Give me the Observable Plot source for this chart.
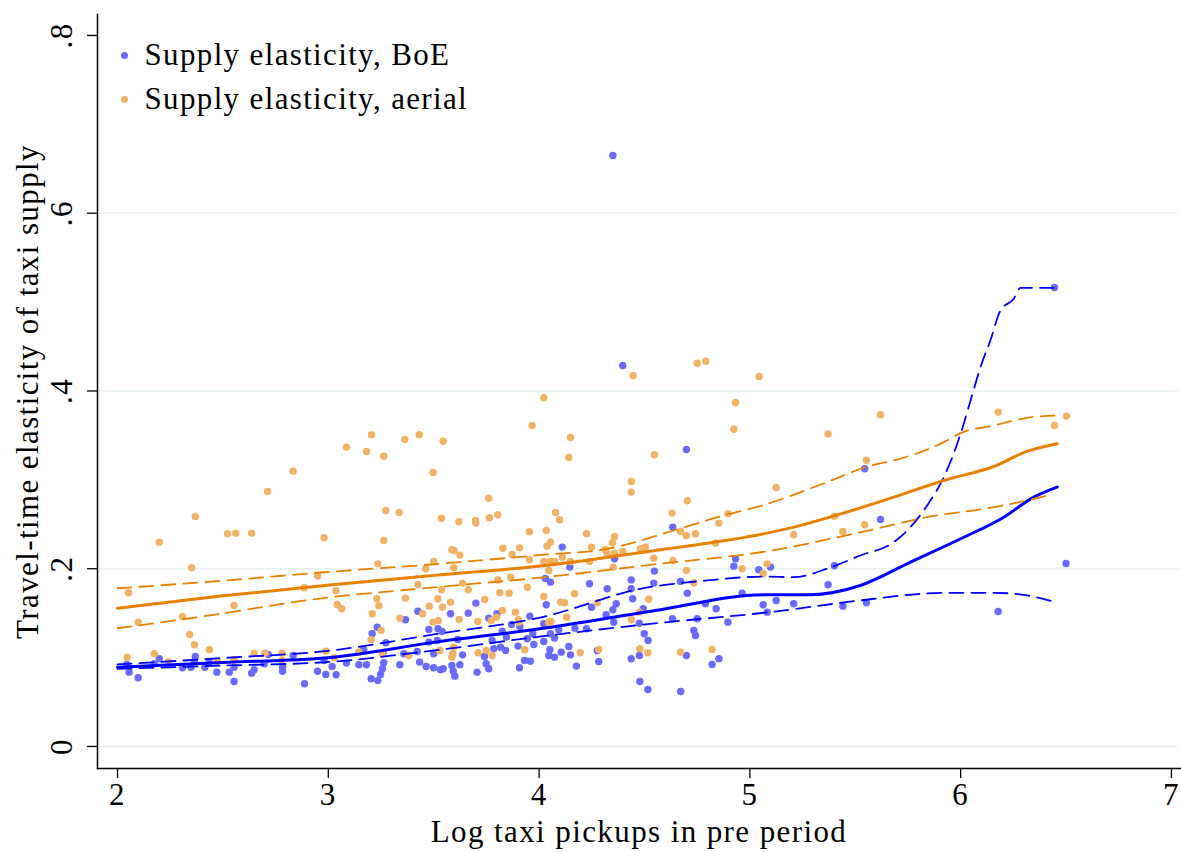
<!DOCTYPE html>
<html>
<head>
<meta charset="utf-8">
<script src="https://cdn.jsdelivr.net/npm/d3@7"></script>
<script src="https://cdn.jsdelivr.net/npm/@observablehq/plot@0.6"></script>
<style>
  body { margin: 0; background: #fff; }
  #wrap { position: relative; width: 1181px; height: 852px; }
  .lg { position: absolute; left: 117px; height: 44px; display: flex; align-items: center;
        font-family: "Liberation Serif", "Times New Roman", serif; font-size: 31px; letter-spacing: 1.35px; color: #000; white-space: nowrap; }
  .lg .d { width: 7px; height: 7px; border-radius: 50%; margin-left: 3.5px; margin-right: 17px; }
</style>
</head>
<body>
<div id="wrap"></div>
<script>
// ---- Data ----
const seriesNames = ["Supply elasticity, BoE", "Supply elasticity, aerial"];
const xTicks = [2, 3, 4, 5, 6, 7];
const yTicks = [0, 0.2, 0.4, 0.6, 0.8];
const yTickLabels = ["0", ".2", ".4", ".6", ".8"];
const gridTicks = [0, 0.2, 0.4, 0.6];
const xTitle = "Log taxi pickups in pre period";
const yTitle = "Travel-time elasticity of taxi supply";

const boeX = [2.044,2.055,2.098,2.198,2.174,2.308,2.348,2.369,2.364,2.414,2.435,2.471,2.53,2.553,2.553,2.636,2.648,2.715,2.696,2.783,2.783,2.833,2.887,2.949,2.98,2.988,
3.70,3.425,3.366,3.58,3.664,3.761,3.80,3.956,3.232,3.208,3.477,3.52,3.54,3.517,3.477,3.273,3.614,3.825,3.845,3.777,3.869,3.909,3.944,3.97,3.817,3.841,3.785,3.90,3.975,3.637,3.50,3.422,3.358,3.26,3.168,3.086,3.018,3.037,3.145,3.181,3.263,3.257,3.248,3.203,3.235,3.339,3.433,3.464,3.50,3.532,3.545,3.586,3.593,3.60,3.624,3.706,3.741,3.749,3.761,3.907,3.931,3.959,
4.397,4.699,4.634,4.11,4.146,4.358,4.547,4.932,4.924,5.042,4.03,4.054,4.239,4.323,4.437,4.437,4.444,4.544,4.671,4.703,4.963,5.063,5.082,4.034,4.249,4.35,4.366,4.494,4.789,4.84,4.896,4.318,4.633,4.75,4.354,4.475,4.022,4.093,4.17,4.225,4.054,4.073,4.022,4.499,4.517,4.734,4.742,4.051,4.046,4.073,4.105,4.141,4.149,4.177,4.276,4.283,4.437,4.476,4.699,4.821,4.853,4.478,4.516,4.672,
6.445,5.545,5.62,5.098,5.401,6.50,5.371,5.125,5.208,5.441,5.553,6.178,4.35];
const boeY = [.0923,.0836,.0773,.0987,.093,.0885,.0892,.1013,.096,.0892,.0949,.0836,.0836,.0731,.0892,.0825,.0863,.1035,.093,.0892,.0847,.1024,.0705,.0847,.0968,.081,
.1613,.1522,.1425,.1493,.15,.1444,.1493,.1466,.1342,.1268,.1316,.1324,.1294,.1193,.1174,.1167,.1204,.1298,.123,.1193,.1373,.135,.1212,.1268,.1117,.108,.1099,.1129,.1148,.1031,.1043,.1069,.1043,.1054,.1088,.0938,.09,.0807,.0919,.0919,.0942,.0874,.081,.0762,.0743,.0919,.0949,.09,.0885,.0863,.0874,.0911,.0847,.0791,.0919,.0836,.1013,.093,.0874,.0885,.0968,.096,
.4287,.3342,.2468,.2243,.2018,.2111,.1973,.2111,.2029,.1988,.189,.1849,.183,.1774,.1874,.1774,.1662,.1838,.1857,.1725,.1725,.1594,.1511,.1594,.1567,.1538,.1605,.1549,.1605,.1549,.1399,.1482,.1437,.1437,.1399,.1387,.138,.1313,.1331,.1324,.1268,.1219,.1181,.1268,.1193,.1305,.1249,.1088,.1024,.1005,.1061,.1125,.1031,.0904,.108,.0956,.0987,.1024,.1024,.0923,.0987,.0731,.0641,.0619,
.5164,.3124,.2554,.2018,.2033,.2059,.1819,.1643,.1605,.1579,.1617,.1519,.665];

const aerialX = [2.198,2.522,2.561,2.636,2.98,2.351,2.052,2.949,2.886,2.553,2.098,2.308,2.342,2.365,2.436,2.046,2.174,2.242,2.474,2.553,2.648,2.699,2.78,2.988,2.78,
2.833,2.712,2.369,
3.967,3.205,3.086,3.181,3.263,3.363,3.431,3.545,3.497,3.761,3.273,3.336,3.537,3.619,3.698,3.70,3.765,3.804,3.263,3.954,3.586,3.597,3.624,3.828,3.907,3.872,3.235,3.50,3.595,3.462,3.954,3.425,3.637,3.664,3.537,3.804,3.865,3.814,3.858,3.944,3.036,3.042,3.064,3.23,3.24,3.366,3.208,3.339,3.447,3.479,3.52,3.542,3.58,3.742,3.497,3.522,3.621,3.709,3.773,3.798,3.826,3.888,3.902,3.904,3.251,3.203,3.529,3.595,3.591,3.586,3.711,3.749,3.777,3.932,3.382,3.256,3.145,3.029,
4.022,4.149,4.141,4.446,4.75,4.791,5.044,4.932,4.924,4.547,4.438,4.437,4.703,4.078,4.097,4.631,4.896,4.853,4.034,4.054,4.038,4.225,4.249,4.358,4.348,4.315,4.358,4.397,4.481,4.505,4.671,4.698,4.742,4.837,4.022,4.054,4.073,4.046,4.11,4.149,4.239,4.323,4.352,4.544,4.635,4.699,4.963,5.063,5.082,4.734,4.022,4.168,4.102,4.121,4.276,4.131,4.057,4.045,4.52,4.475,4.438,4.195,4.283,4.478,4.516,4.671,4.821,
5.371,5.62,6.178,6.502,6.445,5.125,5.553,5.401,5.208,5.441,5.545];
const aerialY = [.2299,.2393,.240,.240,.2348,.201,.1729,.1917,.1786,.1586,.1399,.1463,.126,.1144,.1088,.1005,.1043,.0953,.096,.0975,.105,.105,.105,.1073,.0968,
.3098,.2869,.2588,
.3612,.3507,.3368,.3319,.3266,.3454,.3507,.3435,.3083,.2794,.2655,.2633,.2569,.2528,.2543,.2513,.2573,.2607,.2318,.2416,.2213,.2205,.2153,.2231,.2235,.216,.2055,.2082,.2011,.20,.2101,.1823,.1838,.1763,.1763,.1874,.1905,.1729,.1725,.1792,.1752,.1598,.1549,.1662,.1583,.1669,.1493,.1444,.1493,.1579,.1662,.1568,.1624,.1654,.1399,.1418,.1429,.1406,.1418,.1455,.153,.1511,.1425,.1399,.1305,.12,.108,.1117,.1043,.1005,.1054,.108,.1024,.1088,.1024,.1043,.1061,.0998,
.3923,.3477,.3252,.4171,.4313,.4335,.4163,.387,.357,.3282,.2982,.2862,.2764,.2633,.2551,.2626,.2618,.2513,.243,.2299,.2254,.2393,.2243,.2363,.2292,.2217,.2175,.2194,.2224,.2243,.242,.2374,.2393,.2288,.2082,.2082,.2082,.198,.213,.2082,.2082,.2168,.2018,.2119,.2093,.198,.20,.1943,.2055,.1842,.1688,.1718,.1624,.1617,.1617,.1455,.1406,.1395,.1657,.1511,.1425,.1054,.1091,.1099,.1054,.1061,.1091,
.3517,.3732,.3762,.3717,.3612,.2914,.3221,.2591,.2382,.2419,.2494];

// Lowess fits and confidence bands: [x, y]
const boeFit = [[2.0,.0892],[2.5,.0945],[2.996,.0998],[3.508,.1174],[4.03,.1333],[4.552,.153],[5.07,.1708],[5.287,.1707],[5.524,.1811],[5.762,.2074],[6.0,.2337],[6.205,.258],[6.347,.2805],[6.458,.2918]];
const boeUpper = [[2.0,.0923],[2.5,.0995],[2.996,.1075],[3.5,.126],[4.03,.1465],[4.481,.1774],[4.797,.1868],[5.07,.1912],[5.208,.1905],[5.366,.20],[5.524,.2149],[5.683,.2299],[5.762,.2468],[5.841,.2712],[5.92,.303],[6.0,.352],[6.047,.3893],[6.094,.4268],[6.141,.4568],[6.189,.4906],[6.252,.5037],[6.284,.516],[6.441,.516]];
const boeLower = [[2.0,.0874],[2.5,.091],[2.996,.095],[3.5,.108],[4.03,.1244],[4.55,.1385],[5.07,.1505],[5.524,.1643],[5.762,.1707],[5.92,.1729],[6.157,.1729],[6.315,.170],[6.45,.1624]];
const aerialFit = [[2.0,.1556],[2.5,.1695],[2.98,.181],[3.5,.1925],[4.03,.2037],[4.55,.2205],[5.07,.2395],[5.208,.2468],[5.45,.263],[5.683,.2805],[5.92,.2993],[6.157,.315],[6.315,.332],[6.458,.3406]];
const aerialUpper = [[2.0,.178],[2.5,.1865],[2.98,.196],[3.5,.205],[4.01,.2155],[4.323,.2224],[4.639,.243],[4.876,.26],[5.07,.272],[5.366,.2974],[5.572,.316],[5.683,.3218],[5.92,.3424],[6.0,.3526],[6.157,.3612],[6.315,.3698],[6.458,.3724]];
const aerialLower = [[2.0,.133],[2.38,.1455],[2.98,.167],[3.5,.179],[4.03,.1905],[4.55,.205],[5.07,.2192],[5.524,.241],[5.841,.258],[6.157,.2693],[6.315,.2768],[6.426,.2832]];

// ---- Build ----
const boe = boeX.map((x, i) => ({x, y: boeY[i]}));
const aerial = aerialX.map((x, i) => ({x, y: aerialY[i]}));
const blue = "#0000ff", orange = "#e88000";
const blueDot = "#6a6aff", orangeDot = "#f0b266";
const FONT = "Liberation Serif, Times New Roman, serif";

const chart = Plot.plot({
  width: 1181,
  height: 852,
  marginLeft: 97,
  marginRight: 1,
  marginTop: 14,
  marginBottom: 84,
  x: {domain: [1.905, 7.043]},
  y: {domain: [-0.0248, 0.8236]},
  style: {fontFamily: FONT, fontSize: "31px", background: "#fff", color: "#000", letterSpacing: "1.4px"},
  marks: [
    Plot.ruleY(gridTicks, {stroke: "#eaf1f3", strokeWidth: 2}),
    Plot.dot(boe, {x: "x", y: "y", r: 3.7, fill: blueDot, stroke: "none"}),
    Plot.dot(aerial, {x: "x", y: "y", r: 3.7, fill: orangeDot, stroke: "none"}),
    Plot.line(boeUpper, {x: d => d[0], y: d => d[1], stroke: blue, strokeWidth: 1.8, strokeDasharray: "14,8", curve: "monotone-x"}),
    Plot.line(boeLower, {x: d => d[0], y: d => d[1], stroke: blue, strokeWidth: 1.8, strokeDasharray: "14,8", curve: "monotone-x"}),
    Plot.line(boeFit, {x: d => d[0], y: d => d[1], stroke: blue, strokeWidth: 3, curve: "monotone-x"}),
    Plot.line(aerialUpper, {x: d => d[0], y: d => d[1], stroke: orange, strokeWidth: 1.8, strokeDasharray: "14,8", curve: "monotone-x"}),
    Plot.line(aerialLower, {x: d => d[0], y: d => d[1], stroke: orange, strokeWidth: 1.8, strokeDasharray: "14,8", curve: "monotone-x"}),
    Plot.line(aerialFit, {x: d => d[0], y: d => d[1], stroke: orange, strokeWidth: 3, curve: "monotone-x"}),
    Plot.axisX({ticks: xTicks, tickSize: 10, tickPadding: 4, tickFormat: d => String(d), label: null, fontSize: 31, strokeWidth: 1.3}),
    Plot.axisY({ticks: yTicks, tickSize: 10, tickFormat: () => "", label: null, strokeWidth: 1.3}),
    Plot.text(yTicks, {y: d => d, text: (d, i) => yTickLabels[i], frameAnchor: "left", dx: -35, rotate: -90, textAnchor: "middle", lineAnchor: "middle", fontSize: 31}),
    Plot.text([xTitle], {text: d => d, frameAnchor: "bottom", dy: 64, textAnchor: "middle", lineAnchor: "middle", fontSize: 31}),
    Plot.text([yTitle], {text: d => d, frameAnchor: "left", dx: -69, rotate: -90, textAnchor: "middle", lineAnchor: "middle", fontSize: 31}),
    Plot.frame({anchor: "left", strokeWidth: 1.5}),
    Plot.frame({anchor: "bottom", strokeWidth: 1.5})
  ]
});

const wrap = document.getElementById("wrap");
wrap.appendChild(chart);
[[seriesNames[0], blueDot, 33], [seriesNames[1], orangeDot, 77]].forEach(([name, col, top]) => {
  const row = document.createElement("div");
  row.className = "lg";
  row.style.top = top + "px";
  const dot = document.createElement("span");
  dot.className = "d";
  dot.style.background = col;
  const t = document.createElement("span");
  t.textContent = name;
  row.appendChild(dot);
  row.appendChild(t);
  wrap.appendChild(row);
});
</script>
</body>
</html>
